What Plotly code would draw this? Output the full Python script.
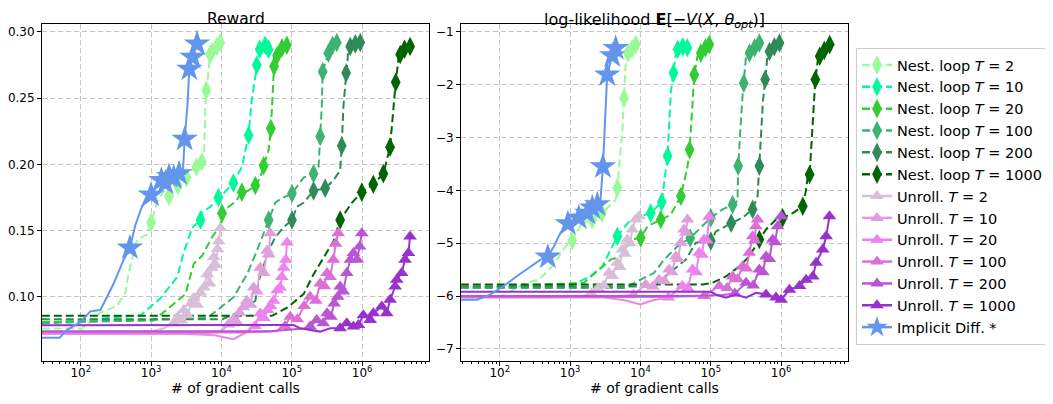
import plotly.graph_objects as go

# ---------------- data: Reward panel ----------------
rew_imp_x = [28, 50, 64, 100, 137, 190, 237, 294, 408, 500, 597, 742, 873, 1000, 1210, 1400, 1600, 1800, 2100, 2500, 2800, 3000, 3300, 3500, 3900, 4500]
rew_imp_y = [0.069, 0.069, 0.075, 0.081, 0.089, 0.090, 0.100, 0.110, 0.128, 0.137, 0.154, 0.168, 0.176, 0.177, 0.186, 0.188, 0.186, 0.191, 0.190, 0.193, 0.189, 0.219, 0.246, 0.272, 0.281, 0.291]
rew_imp_mk = [9, 13, 15, 16, 17, 18, 19, 21, 23, 24, 25]

rew_nest2_x = [28, 104, 190, 328, 430, 480, 630, 870, 1000, 1210, 1510, 1800, 2090, 2400, 2750, 3200, 3800, 4400, 5270, 5700, 5900, 6100, 6600, 6900, 7300, 8600, 9600]
rew_nest2_y = [0.076, 0.076, 0.088, 0.093, 0.103, 0.118, 0.143, 0.147, 0.156, 0.171, 0.180, 0.176, 0.181, 0.184, 0.186, 0.190, 0.196, 0.198, 0.202, 0.210, 0.244, 0.256, 0.272, 0.283, 0.285, 0.289, 0.292]
rew_nest2_mk = [8, 11, 13, 15, 17, 18, 21, 23, 24, 25, 26]

rew_nest10_x = [28, 710, 1365, 2355, 2890, 3840, 5040, 5320, 6980, 9060, 10700, 14800, 19500, 24300, 27000, 31800, 35000, 37600, 42000, 46800]
rew_nest10_y = [0.080, 0.086, 0.099, 0.115, 0.133, 0.152, 0.158, 0.164, 0.168, 0.175, 0.178, 0.186, 0.198, 0.222, 0.249, 0.275, 0.287, 0.285, 0.290, 0.287]
rew_nest10_mk = [6, 9, 11, 13, 15, 16, 18, 19]

rew_nest20_x = [28, 1085, 3080, 4040, 5320, 7360, 9680, 10200, 12700, 16000, 19500, 24000, 30300, 35600, 39800, 46900, 50400, 56000, 61700, 72600, 85000]
rew_nest20_y = [0.081, 0.082, 0.102, 0.125, 0.131, 0.145, 0.154, 0.163, 0.168, 0.172, 0.179, 0.180, 0.184, 0.190, 0.199, 0.211, 0.227, 0.274, 0.282, 0.288, 0.290]
rew_nest20_mk = [7, 10, 12, 14, 16, 17, 18, 19, 20]

rew_nest100_x = [28, 6270, 14800, 23100, 32100, 46900, 58300, 70000, 100700, 147000, 204000, 240000, 253000, 267000, 275000, 331000, 380000, 436000]
rew_nest100_y = [0.080, 0.084, 0.0995, 0.117, 0.135, 0.158, 0.171, 0.174, 0.178, 0.190, 0.193, 0.198, 0.221, 0.244, 0.270, 0.284, 0.290, 0.292]
rew_nest100_mk = [5, 8, 10, 12, 14, 15, 16, 17]

rew_nest200_x = [28, 10300, 18600, 30300, 33900, 46900, 58300, 76500, 100700, 118000, 147000, 204000, 298000, 392000, 487000, 513000, 542000, 592000, 638000, 676000, 800000, 940000]
rew_nest200_y = [0.083, 0.083, 0.089, 0.097, 0.112, 0.135, 0.145, 0.1525, 0.158, 0.168, 0.171, 0.180, 0.182, 0.188, 0.1955, 0.214, 0.244, 0.269, 0.287, 0.289, 0.291, 0.292]
rew_nest200_mk = [8, 11, 12, 15, 17, 19, 20, 21]

rew_nest1000_x = [28, 52000, 85700, 147000, 204000, 298000, 392000, 487000, 606000, 713000, 988000, 1300000, 1440000, 2000000, 2230000, 2490000, 3000000, 3270000, 3470000, 4000000, 4800000]
rew_nest1000_y = [0.0856, 0.0856, 0.0918, 0.102, 0.117, 0.132, 0.142, 0.158, 0.165, 0.171, 0.179, 0.183, 0.185, 0.193, 0.203, 0.213, 0.262, 0.279, 0.283, 0.287, 0.289]
rew_nest1000_mk = [7, 10, 12, 13, 15, 16, 18, 19, 20]

rew_unr2_x = [28, 500, 1000, 1500, 2090, 2400, 2700, 2920, 3300, 3700, 4040, 4500, 5000, 5610, 6270, 6800, 7300, 7780, 8300, 8800, 9140, 9680]
rew_unr2_y = [0.073, 0.073, 0.074, 0.076, 0.080, 0.085, 0.082, 0.090, 0.086, 0.095, 0.099, 0.094, 0.103, 0.107, 0.117, 0.110, 0.122, 0.130, 0.124, 0.136, 0.142, 0.152]
rew_unr2_start = 4

rew_unr10_x = [28, 5000, 10000, 12500, 14800, 16500, 18000, 20500, 23100, 26000, 28700, 32000, 35600, 40000, 44500, 47000, 49600]
rew_unr10_y = [0.072, 0.072, 0.074, 0.079, 0.083, 0.081, 0.088, 0.092, 0.097, 0.094, 0.107, 0.104, 0.122, 0.118, 0.135, 0.132, 0.148]
rew_unr10_start = 3

rew_unr20_x = [28, 3000, 8000, 14800, 22000, 30000, 35600, 40000, 45000, 50000, 55000, 62000, 68400, 72000, 76500, 82000, 85700]
rew_unr20_y = [0.072, 0.072, 0.071, 0.068, 0.073, 0.078, 0.0875, 0.084, 0.090, 0.093, 0.097, 0.105, 0.107, 0.115, 0.122, 0.128, 0.141]
rew_unr20_start = 5

rew_unr100_x = [28, 20000, 60000, 80000, 95000, 120000, 150000, 182000, 220000, 253000, 290000, 317000, 350000, 390000, 420000, 457000]
rew_unr100_y = [0.073, 0.073, 0.074, 0.078, 0.085, 0.083, 0.093, 0.100, 0.097, 0.110, 0.108, 0.118, 0.115, 0.128, 0.140, 0.148]
rew_unr100_start = 3

rew_unr200_x = [28, 50000, 150000, 182000, 226000, 280000, 317000, 360000, 400000, 450000, 487000, 540000, 604000, 680000, 752000, 850000, 920000, 986000]
rew_unr200_y = [0.074, 0.074, 0.076, 0.0775, 0.0825, 0.080, 0.0876, 0.085, 0.095, 0.100, 0.1077, 0.104, 0.118, 0.128, 0.133, 0.128, 0.138, 0.148]
rew_unr200_start = 3

rew_unr1000_x = [28, 106000, 132000, 253000, 351000, 487000, 604000, 752000, 886000, 1040000, 1300000, 1440000, 1900000, 2230000, 2500000, 2940000, 3100000, 3650000, 4070000, 4540000, 4790000]
rew_unr1000_y = [0.0785, 0.0787, 0.0762, 0.0737, 0.0762, 0.0762, 0.080, 0.0775, 0.0787, 0.086, 0.0825, 0.0875, 0.0926, 0.0875, 0.0977, 0.1077, 0.1128, 0.118, 0.128, 0.133, 0.1455]
rew_unr1000_start = 5

# ---------------- data: log-likelihood panel ----------------
ll_imp_x = [28, 48, 74, 114, 177, 274, 380, 483, 589, 733, 931, 1196, 1330, 1757, 2070, 2440, 2700, 2930, 3370, 3980, 4450]
ll_imp_y = [-6.07, -6.07, -5.97, -5.81, -5.62, -5.44, -5.31, -5.26, -5.06, -4.80, -4.63, -4.55, -4.52, -4.43, -4.33, -4.27, -4.20, -3.55, -1.81, -1.45, -1.31]
ll_imp_mk = [7, 10, 12, 13, 14, 15, 17, 18, 19, 20]

ll_nest2_x = [28, 107, 232, 359, 556, 862, 1072, 1473, 2065, 2840, 4450, 4700, 5540, 5850, 6170, 6670, 7600, 8590]
ll_nest2_y = [-6.02, -6.00, -5.75, -5.69, -5.44, -5.06, -4.95, -4.62, -4.55, -4.43, -4.18, -3.95, -2.85, -2.25, -1.59, -1.40, -1.32, -1.24]
ll_nest2_mk = [6, 8, 9, 11, 13, 15, 16, 17]

ll_nest10_x = [28, 1016, 1960, 2870, 3775, 4700, 7280, 10100, 14000, 17500, 20100, 22900, 24300, 27000, 29500, 32000, 33800, 40000, 46500]
ll_nest10_y = [-5.85, -5.81, -5.62, -5.44, -5.12, -4.87, -4.55, -4.49, -4.43, -4.30, -4.22, -3.61, -3.35, -2.15, -1.78, -1.40, -1.33, -1.28, -1.30]
ll_nest10_mk = [5, 8, 10, 12, 14, 16, 17, 18]

ll_nest20_x = [28, 1575, 3775, 5250, 7280, 10100, 12600, 19500, 27000, 37600, 46800, 50000, 55000, 58200, 64600, 72200, 84000, 95000]
ll_nest20_y = [-5.85, -5.75, -5.31, -5.25, -4.93, -4.90, -4.68, -4.55, -4.46, -4.11, -3.54, -3.23, -2.34, -1.81, -1.46, -1.40, -1.30, -1.24]
ll_nest20_mk = [5, 7, 9, 11, 13, 15, 16, 17]

ll_nest100_x = [28, 6000, 9060, 15700, 21700, 33600, 51000, 76200, 100000, 147000, 204000, 240000, 245000, 282000, 294000, 317000, 355000, 420000, 490000]
ll_nest100_y = [-5.85, -5.85, -5.72, -5.56, -5.31, -5.06, -4.90, -4.68, -4.52, -4.36, -4.27, -4.20, -3.54, -2.22, -1.97, -1.46, -1.40, -1.30, -1.21]
ll_nest100_mk = [6, 8, 10, 12, 14, 16, 17, 18]

ll_nest200_x = [28, 15000, 17500, 30200, 44200, 61400, 100000, 118000, 195000, 282000, 393000, 462000, 490000, 549000, 592000, 646000, 682000, 800000, 946000]
ll_nest200_y = [-5.82, -5.82, -5.75, -5.50, -5.31, -4.99, -4.96, -4.78, -4.62, -4.52, -4.36, -4.11, -3.54, -2.34, -1.90, -1.40, -1.37, -1.28, -1.21]
ll_nest200_mk = [6, 8, 10, 12, 14, 16, 17, 18]

ll_nest1000_x = [28, 76000, 105000, 164000, 254000, 352000, 490000, 610000, 846000, 1050000, 1460000, 2030000, 2260000, 2380000, 2540000, 2820000, 3060000, 3330000, 3530000, 4100000, 4900000]
ll_nest1000_y = [-5.78, -5.78, -5.75, -5.63, -5.44, -5.25, -4.93, -4.74, -4.55, -4.52, -4.43, -4.30, -3.99, -3.74, -3.70, -2.66, -1.90, -1.52, -1.46, -1.35, -1.24]
ll_nest1000_mk = [6, 9, 11, 14, 16, 18, 19, 20]

ll_unr2_x = [28, 500, 1500, 2000, 2500, 3000, 3570, 4000, 4690, 5100, 5520, 6000, 6500, 7100, 7670, 8570, 9550]
ll_unr2_y = [-6.02, -6.03, -6.00, -5.95, -5.85, -5.80, -5.56, -5.62, -5.37, -5.45, -5.12, -5.20, -4.93, -5.00, -4.74, -4.55, -4.49]
ll_unr2_start = 3

ll_unr10_x = [28, 3000, 8000, 11900, 15000, 18400, 22000, 25500, 28000, 31800, 34000, 37500, 41700, 44000, 46600]
ll_unr10_y = [-6.02, -6.02, -5.98, -5.78, -5.82, -5.69, -5.72, -5.50, -5.55, -5.25, -5.30, -4.99, -4.74, -4.80, -4.55]
ll_unr10_start = 2

ll_unr20_x = [28, 3000, 6000, 10000, 15000, 25000, 39500, 47000, 55000, 62000, 68400, 75000, 80600, 88000, 94900]
ll_unr20_y = [-6.03, -6.03, -6.08, -6.16, -6.08, -6.03, -5.81, -5.85, -5.50, -5.55, -5.18, -5.22, -4.93, -4.95, -4.50]
ll_unr20_start = 5

ll_unr100_x = [28, 20000, 80000, 132000, 170000, 204000, 240000, 282000, 320000, 352000, 393000, 420000, 437000, 462000]
ll_unr100_y = [-6.02, -6.02, -6.00, -5.81, -5.85, -5.63, -5.68, -5.44, -5.48, -5.18, -4.87, -4.95, -4.68, -4.55]
ll_unr100_start = 2

ll_unr200_x = [28, 50000, 150000, 220000, 317000, 400000, 490000, 550000, 610000, 680000, 758000, 820000, 891000, 1000000]
ll_unr200_y = [-6.00, -6.00, -5.98, -5.95, -5.75, -5.80, -5.50, -5.55, -5.25, -5.30, -4.93, -4.98, -4.68, -4.49]
ll_unr200_start = 3

ll_unr1000_x = [28, 100000, 118000, 164000, 229000, 317000, 437000, 610000, 846000, 1000000, 1310000, 1820000, 2260000, 2820000, 3140000, 3900000, 4360000, 4860000]
ll_unr1000_y = [-5.92, -5.92, -5.97, -6.03, -5.97, -6.03, -5.94, -5.97, -6.03, -6.07, -5.88, -5.81, -5.69, -5.63, -5.37, -5.12, -4.87, -4.49]
ll_unr1000_start = 7

T_VALUES = [2, 10, 20, 100, 200, 1000]
xtick_vals = [1e2, 1e3, 1e4, 1e5, 1e6]
xtick_text = ["10<sup>2</sup>", "10<sup>3</sup>", "10<sup>4</sup>", "10<sup>5</sup>", "10<sup>6</sup>"]
rew_ticks = [0.10, 0.15, 0.20, 0.25, 0.30]
ll_ticks = [-7, -6, -5, -4, -3, -2, -1]

NEST_COLORS = ["#98FB98", "#00FA9A", "#32CD32", "#3CB371", "#2E8B57", "#006400"]
UNR_COLORS = ["#D8BFD8", "#DDA0DD", "#EE82EE", "#DA70D6", "#BA55D3", "#9932CC"]
IMP_COLOR = "#6495ED"

FONT = "DejaVu Sans"
DASH = "8px,4px"

STYLE = {
    "nest": dict(dash=DASH, symbol="diamond-tall", size=14),
    "unr": dict(dash="solid", symbol="triangle-up", size=12),
    "imp": dict(dash="solid", symbol="star", size=20),
}

fig = go.Figure()


def add_curve(x, y, marks, color, kind, name, axis):
    st = STYLE[kind]
    xa, ya = ("x", "y") if axis == 1 else ("x2", "y2")
    fig.add_trace(go.Scatter(x=x, y=y, mode="lines", xaxis=xa, yaxis=ya,
                             line=dict(color=color, width=2, dash=st["dash"]),
                             showlegend=False, legendgroup=name, hoverinfo="skip"))
    fig.add_trace(go.Scatter(x=[x[i] for i in marks], y=[y[i] for i in marks],
                             mode="markers", xaxis=xa, yaxis=ya,
                             marker=dict(symbol=st["symbol"], size=st["size"], color=color,
                                         line=dict(width=0)),
                             showlegend=False, legendgroup=name, name=name))


def add_legend_entry(color, kind, name):
    st = STYLE[kind]
    fig.add_trace(go.Scatter(x=[None], y=[None], mode="lines+markers", name=name,
                             legendgroup=name,
                             line=dict(color=color, width=2.5, dash=st["dash"]),
                             marker=dict(symbol=st["symbol"], size=min(st["size"], 16), color=color)))


rew_nest = [(rew_nest2_x, rew_nest2_y, rew_nest2_mk), (rew_nest10_x, rew_nest10_y, rew_nest10_mk),
            (rew_nest20_x, rew_nest20_y, rew_nest20_mk), (rew_nest100_x, rew_nest100_y, rew_nest100_mk),
            (rew_nest200_x, rew_nest200_y, rew_nest200_mk), (rew_nest1000_x, rew_nest1000_y, rew_nest1000_mk)]
ll_nest = [(ll_nest2_x, ll_nest2_y, ll_nest2_mk), (ll_nest10_x, ll_nest10_y, ll_nest10_mk),
           (ll_nest20_x, ll_nest20_y, ll_nest20_mk), (ll_nest100_x, ll_nest100_y, ll_nest100_mk),
           (ll_nest200_x, ll_nest200_y, ll_nest200_mk), (ll_nest1000_x, ll_nest1000_y, ll_nest1000_mk)]
rew_unr = [(rew_unr2_x, rew_unr2_y, rew_unr2_start), (rew_unr10_x, rew_unr10_y, rew_unr10_start),
           (rew_unr20_x, rew_unr20_y, rew_unr20_start), (rew_unr100_x, rew_unr100_y, rew_unr100_start),
           (rew_unr200_x, rew_unr200_y, rew_unr200_start), (rew_unr1000_x, rew_unr1000_y, rew_unr1000_start)]
ll_unr = [(ll_unr2_x, ll_unr2_y, ll_unr2_start), (ll_unr10_x, ll_unr10_y, ll_unr10_start),
          (ll_unr20_x, ll_unr20_y, ll_unr20_start), (ll_unr100_x, ll_unr100_y, ll_unr100_start),
          (ll_unr200_x, ll_unr200_y, ll_unr200_start), (ll_unr1000_x, ll_unr1000_y, ll_unr1000_start)]

# Nested loop curves
for i, t in enumerate(T_VALUES):
    name = f"Nest. loop <i>T</i> = {t}"
    for axis, series in ((1, rew_nest), (2, ll_nest)):
        x, y, mk = series[i]
        add_curve(x, y, mk, NEST_COLORS[i], "nest", name, axis)
    add_legend_entry(NEST_COLORS[i], "nest", name)

# Unrolled curves
for i, t in enumerate(T_VALUES):
    name = f"Unroll. <i>T</i> = {t}"
    for axis, series in ((1, rew_unr), (2, ll_unr)):
        x, y, start = series[i]
        add_curve(x, y, list(range(start, len(x))), UNR_COLORS[i], "unr", name, axis)
    add_legend_entry(UNR_COLORS[i], "unr", name)

# Implicit differentiation
name = "Implicit Diff. *"
add_curve(rew_imp_x, rew_imp_y, rew_imp_mk, IMP_COLOR, "imp", name, 1)
add_curve(ll_imp_x, ll_imp_y, ll_imp_mk, IMP_COLOR, "imp", name, 2)
add_legend_entry(IMP_COLOR, "imp", name)

# the page body adds an 8px margin, so the figure is laid out 8px smaller
OFF = 8
W, H = 1053 - OFF, 404 - OFF


def px_x(p):
    return (p - OFF) / W


def px_y(p):
    return 1 - (p - OFF) / H


left_dom = [px_x(42), px_x(429)]
right_dom = [px_x(461), px_x(848)]
y_dom = [px_y(361), px_y(24)]

minor_vals = [m * 10 ** k for k in range(1, 7) for m in range(2, 10)]

xcommon = dict(type="log", range=[1.45, 6.95], tickvals=xtick_vals, ticktext=xtick_text,
               ticks="outside", ticklen=4, tickcolor="black", showline=True, mirror=True,
               linecolor="black", linewidth=1, showgrid=True, gridcolor="#c4c4c4",
               griddash="5px,3px", gridwidth=1, zeroline=False, ticklabelstandoff=-3,
               tickfont=dict(size=12, color="black", family=FONT),
               minor=dict(tickvals=minor_vals, ticks="outside", ticklen=2, tickcolor="black",
                          showgrid=False))
ycommon = dict(ticks="outside", ticklen=4, tickcolor="black", showline=True, mirror=True,
               linecolor="black", linewidth=1, showgrid=True, gridcolor="#c4c4c4",
               griddash="5px,3px", gridwidth=1, zeroline=False,
               tickfont=dict(size=12, color="black", family=FONT))

fig.update_layout(
    width=W, height=H,
    margin=dict(l=0, r=0, t=0, b=0),
    paper_bgcolor="white", plot_bgcolor="white",
    font=dict(family=FONT, color="black"),
    xaxis=dict(domain=left_dom, anchor="y", **xcommon),
    yaxis=dict(domain=y_dom, anchor="x", range=[0.0515, 0.306], tickvals=rew_ticks,
               tickformat=".2f", **ycommon),
    xaxis2=dict(domain=right_dom, anchor="y2", **xcommon),
    yaxis2=dict(domain=y_dom, anchor="x2", range=[-7.23, -0.85], tickvals=ll_ticks, **ycommon),
    legend=dict(x=px_x(856), y=px_y(48), xanchor="left", yanchor="top",
                bgcolor="white", bordercolor="#cccccc", borderwidth=1,
                font=dict(size=14.5, family=FONT, color="black"),
                tracegroupgap=0, itemwidth=30),
    showlegend=True,
    annotations=[
        dict(text="Reward", x=sum(left_dom) / 2, y=1, xref="paper", yref="paper",
             showarrow=False, font=dict(size=15.5, family=FONT), xanchor="center", yanchor="top"),
        dict(text="log-likelihood <b>E</b>[−<i>V</i>(<i>X</i>, <i>θ</i><sub><i>opt</i></sub>)]",
             x=sum(right_dom) / 2, y=1, xref="paper", yref="paper",
             showarrow=False, font=dict(size=16, family=FONT), xanchor="center", yanchor="top"),
        dict(text="# of gradient calls", x=sum(left_dom) / 2, y=px_y(388), xref="paper",
             yref="paper", showarrow=False, font=dict(size=14, family=FONT),
             xanchor="center", yanchor="middle"),
        dict(text="# of gradient calls", x=sum(right_dom) / 2, y=px_y(388), xref="paper",
             yref="paper", showarrow=False, font=dict(size=14, family=FONT),
             xanchor="center", yanchor="middle"),
    ],
)

fig.write_html("out.html")
